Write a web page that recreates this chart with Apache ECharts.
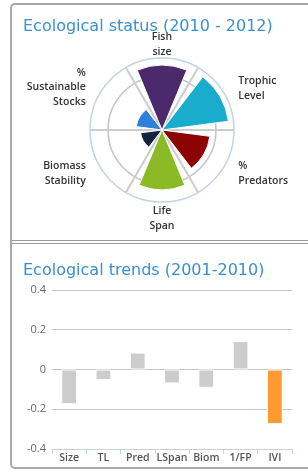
<!DOCTYPE html>
<html>
<head>
<meta charset="utf-8">
<script src="https://cdn.jsdelivr.net/npm/echarts@6.0.0/dist/echarts.min.js"></script>
<style>
  body { margin: 0; background: #fff; overflow: hidden; }
  .frame {
    position: absolute; left: 10px; top: 3px;
    width: 330px; height: 462px;
    border: 2px solid #a8a8a8; border-radius: 5px;
  }
  .divider {
    position: absolute; left: 12px; top: 240px;
    width: 310px; height: 2px;
    border-top: 1px solid #9a9a9a; border-bottom: 1px solid #9a9a9a;
  }
  #status { position: absolute; left: 0; top: 0; width: 308px; height: 240px; }
  #trends { position: absolute; left: 0; top: 244px; width: 308px; height: 226px; }
</style>
</head>
<body>
<div class="frame"></div>
<div class="divider"></div>
<div id="status"></div>
<div id="trends"></div>
<script>
// ecological status 2010 - 2012 (radius as share of the outer ring)
const statusNames = ['Fish\nsize', 'Trophic\nLevel', '%\nPredators', 'Life\nSpan', 'Biomass\nStability', '%\nSustainable\nStocks'];
const statusValues = [0.90, 0.93, 0.67, 0.83, 0.30, 0.36];
const statusColors = ['#4b2a6c', '#1aaccc', '#8b0303', '#8cba26', '#12253d', '#2e80d8'];
// label nudges so they sit like the original
const statusPads = [[0, 0, 13, 0], [0, 0, -2, 26], [0, 0, 0, 26], [16, 0, 0, 0], [0, 26, 0, 0], [0, 26, -8, 0]];

// ecological trends 2001-2010
const trendNames = ['Size', 'TL', 'Pred', 'LSpan', 'Biom', '1/FP', 'IVI'];
const trendValues = [-0.175, -0.053, 0.085, -0.07, -0.092, 0.143, -0.275];
const trendColors = ['#cccccc', '#cccccc', '#cccccc', '#cccccc', '#cccccc', '#cccccc', '#ff9a33'];

const titleStyle = { color: '#3b8fd2', fontSize: 16, fontWeight: 'normal', fontFamily: 'DejaVu Sans' };

const statusChart = echarts.init(document.getElementById('status'));
statusChart.setOption({
  animation: false,
  title: { text: 'Ecological status (2010 - 2012)', left: 23, top: 19, padding: 0, textStyle: titleStyle },
  polar: { center: [162, 130], radius: 72 },
  angleAxis: {
    type: 'category',
    data: statusNames.map((n, i) => ({ value: n, textStyle: { padding: statusPads[i] } })),
    startAngle: 120,
    boundaryGap: true,
    axisLine: { show: true, lineStyle: { color: '#c3d3e4', width: 1.5 } },
    axisTick: { show: false },
    splitLine: { show: true, lineStyle: { color: '#cccccc', width: 2 } },
    axisLabel: {
      margin: -14, color: '#333', fontSize: 10.5, fontWeight: 600,
      fontFamily: 'Open Sans', lineHeight: 14.5
    },
    z: 1
  },
  radiusAxis: {
    min: 0, max: 1, interval: 0.75,
    axisLine: { show: false }, axisTick: { show: false }, axisLabel: { show: false },
    splitLine: { show: true, lineStyle: { color: ['#c4c4c4', '#c4c4c4', 'transparent'], width: 1.5 } }
  },
  series: [{
    type: 'bar',
    coordinateSystem: 'polar',
    data: statusValues,
    barWidth: '75%',
    itemStyle: { color: p => statusColors[p.dataIndex], borderColor: '#fff', borderWidth: 1 },
    z: 3
  }]
});

const trendsChart = echarts.init(document.getElementById('trends'));
trendsChart.setOption({
  animation: false,
  title: { text: 'Ecological trends (2001-2010)', left: 23, top: 19, padding: 0, textStyle: titleStyle },
  grid: { left: 52, right: 16, top: 46, height: 159 },
  xAxis: {
    type: 'category',
    data: trendNames,
    axisLine: { onZero: false, lineStyle: { color: '#c3d3e4', width: 1 } },
    axisTick: { show: true, length: 5, lineStyle: { color: '#c3d3e4' } },
    axisLabel: { interval: 0, color: '#555', fontSize: 10.5, fontWeight: 600, fontFamily: 'Open Sans', margin: 4 }
  },
  yAxis: {
    type: 'value',
    min: -0.4, max: 0.4, interval: 0.2,
    axisLine: { show: false }, axisTick: { show: false },
    axisLabel: { color: '#666', fontSize: 11, fontFamily: 'Open Sans', margin: 6 },
    splitLine: { lineStyle: { color: '#c4c4c4', width: 1 } }
  },
  series: [{
    type: 'bar',
    data: trendValues,
    barWidth: '46%',
    itemStyle: { color: p => trendColors[p.dataIndex], borderColor: '#fff', borderWidth: 1 }
  }]
});
</script>
</body>
</html>
